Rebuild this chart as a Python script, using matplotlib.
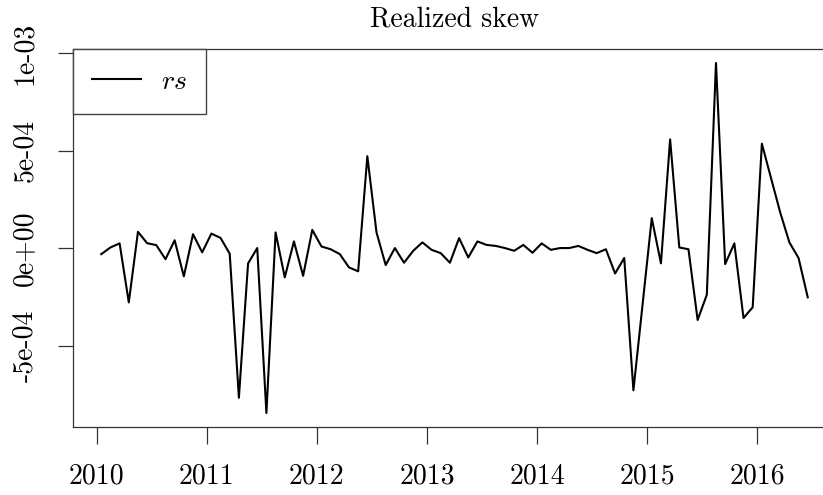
import numpy as np
import matplotlib.pyplot as plt

plt.rcParams["font.family"] = ["cmr10", "DejaVu Serif"]
plt.rcParams["mathtext.fontset"] = "cm"
plt.rcParams["axes.formatter.use_mathtext"] = True

# ┏━━━━━━━━━━ Data (monthly realized skew) ━━━━━━━━━━┓
start_year = 2010
rs_e4 = [
    -0.29, 0.05, 0.26, -2.76, 0.85, 0.27, 0.17, -0.55, 0.42, -1.43, 0.73, -0.20,
    0.76, 0.54, -0.27, -7.64, -0.77, 0.02, -8.42, 0.82, -1.48, 0.36, -1.40, 0.95,
    0.10, -0.04, -0.29, -0.97, -1.17, 4.72, 0.82, -0.85, 0.02, -0.73, -0.12, 0.31,
    -0.07, -0.24, -0.73, 0.53, -0.46, 0.36, 0.18, 0.13, 0.02, -0.12, 0.18, -0.22,
    0.26, -0.07, 0.02, 0.02, 0.13, -0.07, -0.24, -0.04, -1.28, -0.49, -7.26, -2.86,
    1.55, -0.76, 5.58, 0.05, -0.04, -3.66, -2.37, 9.49, -0.80, 0.26, -3.56, -3.01,
    5.36, 3.60, 1.84, 0.31, -0.49, -2.50,
]
rs = np.array(rs_e4) * 1e-4
months = np.arange(len(rs))
t = start_year + (months + 0.5) / 12

year_ticks = list(range(2010, 2017))
y_ticks = [-5e-4, 0.0, 5e-4, 1e-3]
y_labels = ["-5e-04", "0e+00", "5e-04", "1e-03"]

# ┏━━━━━━━━━━ Figure ━━━━━━━━━━┓
W, H = 823, 495
fig = plt.figure(figsize=(W / 100, H / 100), dpi=100)
ax = fig.add_axes([73 / W, 1 - 427 / H, (836 - 73) / W, (427 - 49) / H])

ax.plot(t, rs, color="black", lw=1.5, label="$rs$")
ax.margins(x=0.04, y=0.04)

ax.set_xticks(year_ticks)
ax.set_xticklabels([str(y) for y in year_ticks], fontsize=20)
ax.set_yticks(y_ticks)
ax.set_yticklabels(y_labels, fontsize=20, rotation=90, va="center")
ax.tick_params(axis="x", length=12, width=0.9, color="#333333", pad=14)
ax.tick_params(axis="y", length=11, width=0.9, color="#333333", pad=14)
for s in ax.spines.values():
    s.set_linewidth(0.9)
    s.set_color("#333333")

ax.set_title("Realized skew", fontsize=20, pad=16)

# ┏━━━━━━━━━━ Legend in the top-left corner ━━━━━━━━━━┓
ax.legend(loc="upper left", borderaxespad=0, fancybox=False,
          edgecolor="#444444", framealpha=1, fontsize=20,
          handlelength=1.76, handletextpad=0.7, borderpad=0.7)

fig.savefig("out.png", dpi=100)
